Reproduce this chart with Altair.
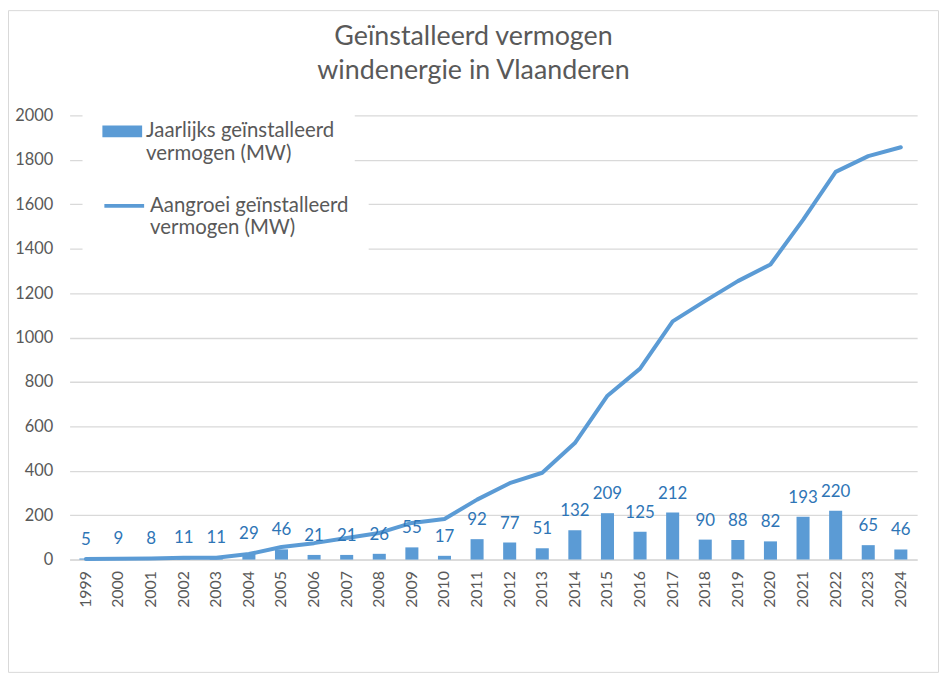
import altair as alt
import pandas as pd

years = ["1999", "2000", "2001", "2002", "2003", "2004", "2005", "2006", "2007",
         "2008", "2009", "2010", "2011", "2012", "2013", "2014", "2015", "2016",
         "2017", "2018", "2019", "2020", "2021", "2022", "2023", "2024"]
annual = [5, 9, 8, 11, 11, 29, 46, 21, 21, 26, 55, 17, 92, 77, 51, 132, 209, 125,
          212, 90, 88, 82, 193, 220, 65, 46]
cumulative = [3, 4, 5, 8, 8, 25, 57, 74, 97, 120, 165, 183, 270, 344, 391, 525,
              738, 860, 1073, 1165, 1254, 1329, 1530, 1746, 1817, 1857]
bar_name = "Jaarlijks geïnstalleerd|vermogen (MW)"
line_name = "Aangroei geïnstalleerd|vermogen (MW)"
title_lines = ["Geïnstalleerd vermogen", "windenergie in Vlaanderen"]

df = pd.DataFrame({
    "year": years,
    "annual": annual,
    "cumulative": cumulative,
    "bar_series": [bar_name] * len(years),
    "line_series": [line_name] * len(years),
})

FONT = "Lato"
GRAY = "#595959"
BLUE = "#5B9BD5"
GRID = "#D9D9D9"

W, H = 853, 447
PAD = {"left": 62, "top": 106, "right": 22, "bottom": 114}

x_enc = alt.X(
    "year:N",
    sort=years,
    title=None,
    scale=alt.Scale(paddingInner=0.6, paddingOuter=0.3),
    axis=alt.Axis(labelAngle=-90, labelFont=FONT, labelFontSize=16,
                  labelColor=GRAY, labelPadding=11, ticks=False,
                  domainColor=GRID, domainWidth=1.5, grid=False),
)
y_axis = alt.Axis(values=list(range(0, 2001, 200)), format="d", labelFont=FONT,
                  labelFontSize=16.5, labelColor=GRAY, labelPadding=17,
                  ticks=False, domain=False, grid=True, gridColor=GRID,
                  gridWidth=1.3)
y_scale = alt.Scale(domain=[0, 2000], nice=False)

legend_common = dict(
    title=None, orient="none", legendX=13, symbolSize=1600,
    labelExpr="split(datum.label, '|')", labelFont=FONT, labelFontSize=20.5,
    labelColor=GRAY, labelLimit=400, labelOffset=4, fillColor="white",
    padding=20,
)

base = alt.Chart(df)

bars = base.mark_bar().encode(
    x=x_enc,
    y=alt.Y("annual:Q", title=None, scale=y_scale, axis=y_axis),
    fill=alt.Fill(
        "bar_series:N",
        scale=alt.Scale(domain=[bar_name], range=[BLUE]),
        legend=alt.Legend(legendY=-24, symbolType="M-1,-0.3H1V0.3H-1Z",
                          symbolStrokeWidth=0, **legend_common),
    ),
)

labels = base.mark_text(
    baseline="alphabetic", dy=-14, font=FONT, fontSize=17, color="#2E75B6"
).encode(
    x=alt.X("year:N", sort=years),
    y=alt.Y("annual:Q", scale=y_scale),
    text=alt.Text("annual:Q"),
)

line = base.mark_line(strokeWidth=4, strokeCap="round", strokeJoin="round").encode(
    x=alt.X("year:N", sort=years),
    y=alt.Y("cumulative:Q", scale=y_scale),
    stroke=alt.Stroke(
        "line_series:N",
        scale=alt.Scale(domain=[line_name], range=[BLUE]),
        legend=alt.Legend(legendY=49, symbolType="stroke", symbolStrokeWidth=4,
                          **legend_common),
    ),
)

border = alt.Chart(pd.DataFrame({"k": [0]})).mark_rect(
    filled=False, stroke=GRID, strokeWidth=1
).encode(
    x=alt.value(-PAD["left"] + 0.5),
    x2=alt.value(W + PAD["right"] - 0.5),
    y=alt.value(-PAD["top"] + 0.5),
    y2=alt.value(H + PAD["bottom"] - 0.5),
)

chart = alt.layer(border, bars, line, labels).properties(
    width=W,
    height=H,
    padding=PAD,
    autosize=alt.AutoSizeParams(type="none"),
    background="white",
    title=alt.TitleParams(
        text=title_lines, font=FONT, fontSize=27, fontWeight="normal",
        color=GRAY, anchor="middle", lineHeight=34, offset=24, dy=99, dx=-20,
    ),
).resolve_scale(
    fill="independent", stroke="independent"
).configure_view(stroke=None)

chart.save("out.html", embed_options={"renderer": "svg", "actions": False})
